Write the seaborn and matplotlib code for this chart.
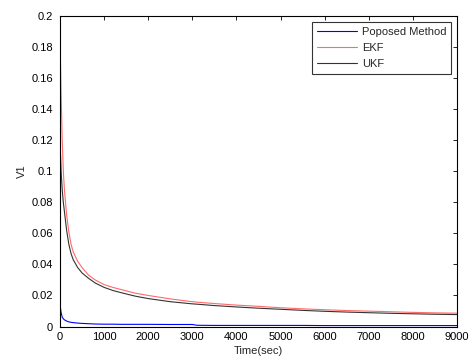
import numpy as np
import pandas as pd
import matplotlib
matplotlib.use("Agg")
import matplotlib.pyplot as plt
import seaborn as sns

time_sec = [0, 25, 50, 75, 100, 150, 200, 250, 300, 400, 500, 650, 800, 1000, 1200,
            1400, 1700, 2000, 2500, 3000, 3100, 3500, 4000, 4500, 5000, 5500, 6000,
            6500, 7000, 7500, 8000, 8500, 9000]
proposed = [0.014, 0.009, 0.006, 0.005, 0.0043, 0.0035, 0.003, 0.0027, 0.0025, 0.0022,
            0.002, 0.0018, 0.0016, 0.0015, 0.0015, 0.0014, 0.0014, 0.0014, 0.0013,
            0.0013, 0.0008, 0.0007, 0.0007, 0.0007, 0.0007, 0.0007, 0.0006, 0.0006,
            0.0006, 0.0006, 0.0006, 0.0006, 0.0006]
ekf = [0.185, 0.15, 0.12, 0.10, 0.088, 0.072, 0.061, 0.053, 0.048, 0.042, 0.038, 0.033,
       0.030, 0.027, 0.0252, 0.0237, 0.0215, 0.0200, 0.0178, 0.0160, 0.0157, 0.0148,
       0.0138, 0.0130, 0.0121, 0.0114, 0.0108, 0.0103, 0.0099, 0.0095, 0.0091, 0.0088,
       0.0086]
ukf = [0.12, 0.10, 0.088, 0.080, 0.074, 0.062, 0.053, 0.047, 0.043, 0.038, 0.0345, 0.031,
       0.028, 0.0252, 0.0232, 0.0217, 0.0196, 0.0180, 0.0160, 0.0146, 0.0144, 0.0135,
       0.0126, 0.0118, 0.0111, 0.0104, 0.0098, 0.0093, 0.0089, 0.0085, 0.0082, 0.0079,
       0.0077]

series_names = ["Poposed Method", "EKF", "UKF"]
colors = ["#0000ff", "#ff6a6a", "#333333"]

df = pd.DataFrame({
    "Time": time_sec * 3,
    "V1": proposed + ekf + ukf,
    "Series": [series_names[0]] * len(time_sec) + [series_names[1]] * len(time_sec)
              + [series_names[2]] * len(time_sec),
})

sns.set_style("white")
plt.rcParams["font.family"] = ["Liberation Sans", "DejaVu Sans"]

fig = plt.figure(figsize=(4.7, 3.59), dpi=100)
ax = fig.add_axes([0.1277, 0.0905, 0.8446, 0.8645])

sns.lineplot(data=df, x="Time", y="V1", hue="Series", palette=colors,
             hue_order=series_names, linewidth=0.8, ax=ax, estimator=None)

ax.set_xlim(0, 9000)
ax.set_ylim(0, 0.2)
ax.set_xticks(np.arange(0, 9001, 1000))
ax.set_yticks(np.round(np.arange(0, 0.2001, 0.02), 2))
ax.set_yticklabels(["0", "0.02", "0.04", "0.06", "0.08", "0.1", "0.12", "0.14",
                    "0.16", "0.18", "0.2"])
ax.tick_params(direction="in", length=3, width=0.6, labelsize=8, top=True,
               right=True, colors="black")
ax.tick_params(axis="x", pad=4)
ax.tick_params(axis="y", pad=5)
for s in ax.spines.values():
    s.set_color("black")
    s.set_linewidth(0.8)
ax.set_xlabel("Time(sec)", fontsize=8, labelpad=3)
ax.set_ylabel("V1", fontsize=8, labelpad=3)

leg = ax.legend(loc="upper right", fontsize=8, frameon=True, fancybox=False,
                edgecolor="black", borderaxespad=0.5, handlelength=3.6,
                labelspacing=0.55, borderpad=0.45, handletextpad=0.45)
leg.get_frame().set_linewidth(0.8)

fig.savefig("out.png", dpi=100)
